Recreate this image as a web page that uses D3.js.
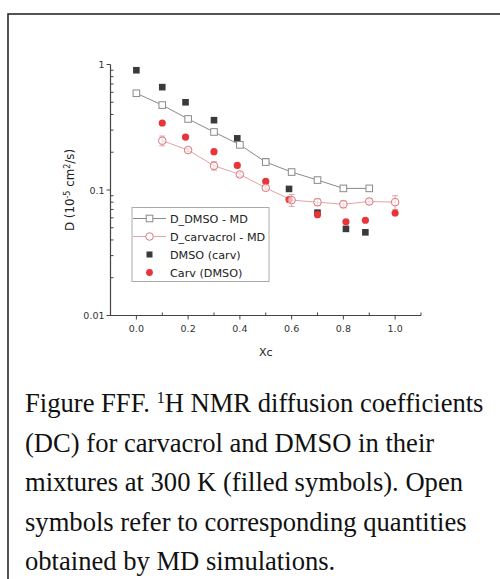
<!DOCTYPE html>
<html><head><meta charset="utf-8">
<script src="https://cdn.jsdelivr.net/npm/d3@7"></script>
<style>body{margin:0;background:#fff}svg{display:block}</style>
</head><body>
<svg id="c" width="500" height="579"></svg>
<script>
// ---- data ----
const xMD = [0, 0.1, 0.2, 0.3, 0.4, 0.5, 0.6, 0.7, 0.8, 0.9];
const dmsoMD = [0.59, 0.475, 0.368, 0.29, 0.229, 0.167, 0.139, 0.120, 0.103, 0.103];
const xCarvMD = [0.1, 0.2, 0.3, 0.4, 0.5, 0.6, 0.7, 0.8, 0.9, 1.0];
const carvMD = [0.247, 0.208, 0.156, 0.133, 0.104, 0.083, 0.080, 0.077, 0.081, 0.080];
const carvMDerr = [0.022, 0.006, 0.012, 0.005, 0.004, 0.009, 0.005, 0.005, 0.004, 0.010];
const xDmsoExp = [0, 0.1, 0.19, 0.3, 0.39, 0.5, 0.59, 0.7, 0.81, 0.885];
const dmsoExp = [0.90, 0.66, 0.50, 0.36, 0.258, 0.168, 0.102, 0.066, 0.049, 0.046];
const xCarvExp = [0.1, 0.19, 0.3, 0.39, 0.5, 0.59, 0.7, 0.81, 0.885, 1.0];
const carvExp = [0.342, 0.264, 0.202, 0.157, 0.117, 0.084, 0.0636, 0.0558, 0.0574, 0.0656];
const xTicks = [0.0, 0.2, 0.4, 0.6, 0.8, 1.0];
const yTicks = [1, 0.1, 0.01];
const legendLabels = ["D_DMSO - MD", "D_carvacrol - MD", "DMSO (carv)", "Carv (DMSO)"];
const captionLines = [
  ["Figure FFF. ", "1", "H NMR diffusion coefficients"],
  ["(DC) for carvacrol and DMSO in their"],
  ["mixtures at 300 K (filled symbols). Open"],
  ["symbols refer to corresponding quantities"],
  ["obtained by MD simulations."]
];

const svg = d3.select("#c");
// frame
svg.append("rect").attr("x", 8).attr("y", 14).attr("width", 520).attr("height", 600)
  .attr("fill", "none").attr("stroke", "#2a2a2a").attr("stroke-width", 1.6);

const x = d3.scaleLinear().domain([-0.1, 1.1]).range([110.5, 421]);
const y = d3.scaleLog().domain([0.01, 1]).range([315.5, 64.5]);
const axisCol = "#444";
const g = svg.append("g");

// x axis
const gx = g.append("g").attr("transform", "translate(0,315.5)");
gx.append("line").attr("x1", x(-0.1)).attr("x2", x(1.1)).attr("stroke", axisCol).attr("stroke-width", 1.2);
gx.selectAll(".mj").data(xTicks).join("line").attr("x1", d => x(d)).attr("x2", d => x(d))
  .attr("y1", 0).attr("y2", 4).attr("stroke", axisCol);
gx.selectAll(".mn").data([-0.1, 0.1, 0.3, 0.5, 0.7, 0.9, 1.1]).join("line").attr("x1", d => x(d)).attr("x2", d => x(d))
  .attr("y1", 0).attr("y2", -3).attr("stroke", axisCol);
gx.selectAll("text").data(xTicks).join("text").attr("x", d => x(d)).attr("y", 16)
  .attr("text-anchor", "middle").attr("font-family", "DejaVu Sans").attr("font-size", 9.5).attr("fill", "#333")
  .text(d => d.toFixed(1));

// y axis
const gy = g.append("g").attr("transform", "translate(110.5,0)");
gy.append("line").attr("y1", y(0.01)).attr("y2", y(1)).attr("stroke", axisCol).attr("stroke-width", 1.2);
gy.selectAll(".mj").data(yTicks).join("line").attr("y1", d => y(d)).attr("y2", d => y(d))
  .attr("x1", 0).attr("x2", -4).attr("stroke", axisCol);
const minors = [];
[0.01, 0.1].forEach(b => { for (let k = 2; k <= 9; k++) minors.push(b * k); });
gy.selectAll(".mn").data(minors).join("line").attr("y1", d => y(d)).attr("y2", d => y(d))
  .attr("x1", 0).attr("x2", 3).attr("stroke", axisCol);
gy.selectAll("text").data(yTicks).join("text").attr("x", -6).attr("y", d => y(d) + 3.5)
  .attr("text-anchor", "end").attr("font-family", "DejaVu Sans").attr("font-size", 9.5).attr("fill", "#333")
  .text(d => String(d));

// axis titles
const yl = svg.append("text").attr("transform", "translate(74,190) rotate(-90)")
  .attr("text-anchor", "middle").attr("font-family", "DejaVu Sans").attr("font-size", 11.8).attr("fill", "#222");
yl.append("tspan").text("D (10");
yl.append("tspan").attr("dy", -4.5).attr("font-size", 8).text("-5");
yl.append("tspan").attr("dy", 4.5).text(" cm");
yl.append("tspan").attr("dy", -4.5).attr("font-size", 8).text("2");
yl.append("tspan").attr("dy", 4.5).text("/s)");
svg.append("text").attr("x", x(0.5)).attr("y", 356).attr("text-anchor", "middle")
  .attr("font-family", "DejaVu Sans").attr("font-size", 11).attr("fill", "#222").text("Xc");

// series
const grayLine = "#8a8a8a", pinkLine = "#e3a3a6", pinkSym = "#d9797e", red = "#e8353a", dark = "#3a3a3a";
const line = d3.line().x(d => x(d[0])).y(d => y(d[1]));
const dmsoPts = xMD.map((v, i) => [v, dmsoMD[i]]);
const carvPts = xCarvMD.map((v, i) => [v, carvMD[i]]);

g.append("path").datum(dmsoPts).attr("d", line).attr("fill", "none").attr("stroke", grayLine).attr("stroke-width", 1);
g.append("path").datum(carvPts).attr("d", line).attr("fill", "none").attr("stroke", pinkLine).attr("stroke-width", 1);

// error bars
g.selectAll(".eb").data(carvPts).join("g").each(function (d, i) {
  const e = carvMDerr[i], s = d3.select(this), cx = x(d[0]);
  s.append("line").attr("x1", cx).attr("x2", cx).attr("y1", y(d[1] + e)).attr("y2", y(d[1] - e)).attr("stroke", pinkLine);
  [d[1] + e, d[1] - e].forEach(v => s.append("line").attr("x1", cx - 3).attr("x2", cx + 3).attr("y1", y(v)).attr("y2", y(v)).attr("stroke", pinkLine));
});

// experimental
g.selectAll(".ds").data(xDmsoExp.map((v, i) => [v, dmsoExp[i]])).join("rect")
  .attr("x", d => x(d[0]) - 3.3).attr("y", d => y(d[1]) - 3.3).attr("width", 6.6).attr("height", 6.6).attr("fill", dark);
g.selectAll(".cs").data(xCarvExp.map((v, i) => [v, carvExp[i]])).join("circle")
  .attr("cx", d => x(d[0])).attr("cy", d => y(d[1])).attr("r", 3.6).attr("fill", red);

// open MD symbols
g.selectAll(".os").data(dmsoPts).join("rect")
  .attr("x", d => x(d[0]) - 3.3).attr("y", d => y(d[1]) - 3.3).attr("width", 6.6).attr("height", 6.6)
  .attr("fill", "#fff").attr("stroke", grayLine).attr("stroke-width", 1);
g.selectAll(".oc").data(carvPts).join("circle")
  .attr("cx", d => x(d[0])).attr("cy", d => y(d[1])).attr("r", 3.8)
  .attr("fill", "#fff").attr("fill-opacity", 0.6).attr("stroke", pinkSym).attr("stroke-width", 1);

// legend
const lg = svg.append("g");
lg.append("rect").attr("x", 132).attr("y", 207.5).attr("width", 137).attr("height", 74)
  .attr("fill", "#fff").attr("stroke", "#aaa").attr("stroke-width", 1);
const rows = [218.5, 236.5, 254.5, 272.5];
legendLabels.forEach((t, i) => {
  const ry = rows[i], sx = 149.5;
  if (i === 0) {
    lg.append("line").attr("x1", 133).attr("x2", 166).attr("y1", ry).attr("y2", ry).attr("stroke", grayLine);
    lg.append("rect").attr("x", sx - 3.3).attr("y", ry - 3.3).attr("width", 6.6).attr("height", 6.6).attr("fill", "#fff").attr("stroke", grayLine);
  } else if (i === 1) {
    lg.append("line").attr("x1", 133).attr("x2", 166).attr("y1", ry).attr("y2", ry).attr("stroke", pinkLine);
    lg.append("circle").attr("cx", sx).attr("cy", ry).attr("r", 3.8).attr("fill", "#fff").attr("stroke", pinkSym);
  } else if (i === 2) {
    lg.append("rect").attr("x", sx - 3).attr("y", ry - 3).attr("width", 6).attr("height", 6).attr("fill", dark);
  } else {
    lg.append("circle").attr("cx", sx).attr("cy", ry).attr("r", 3.4).attr("fill", red);
  }
  lg.append("text").attr("x", 170).attr("y", ry + 4).attr("font-family", "DejaVu Sans").attr("font-size", 11.2)
    .attr("fill", "#222").text(t);
});

// caption
const cap = svg.append("g");
captionLines.forEach((parts, i) => {
  const t = cap.append("text").attr("x", 25).attr("y", 412 + i * 39.5)
    .attr("font-family", "Liberation Serif").attr("font-size", 26.6).attr("fill", "#111");
  if (parts.length === 3) {
    t.append("tspan").text(parts[0]);
    t.append("tspan").attr("dy", -9.5).attr("font-size", 16).text(parts[1]);
    t.append("tspan").attr("dy", 9.5).text(parts[2]);
  } else t.text(parts[0]);
});
</script>
</body></html>
